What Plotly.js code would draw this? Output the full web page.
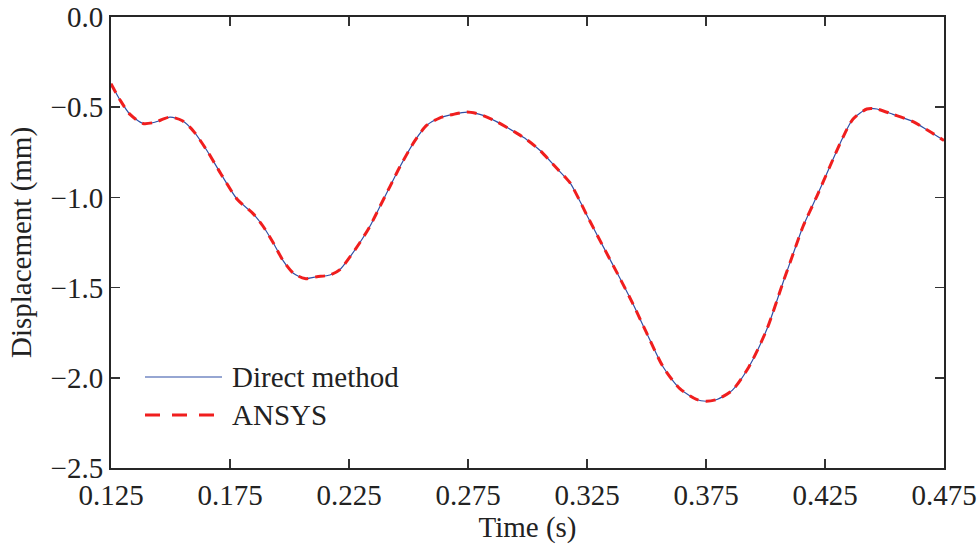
<!DOCTYPE html>
<html>
<head>
<meta charset="utf-8">
<script src="https://cdn.plot.ly/plotly-3.0.1.min.js"></script>
<style>html,body{margin:0;padding:0;background:#fff;}#chart{width:979px;height:544px;}</style>
</head>
<body>
<div id="chart"></div>
<script>
// Time (s)
const time = [0.125,0.1288,0.133,0.1384,0.1430,0.1498,0.1550,0.1595,0.1653,0.1712,0.178,0.1847,0.1889,0.1931,0.1973,0.2016,0.2065,0.2115,0.217,0.2212,0.2254,0.2296,0.2338,0.238,0.2422,0.2464,0.2527,0.2577,0.263,0.2687,0.2746,0.280,0.287,0.2956,0.2997,0.3053,0.3124,0.3179,0.322,0.3250,0.3317,0.3389,0.3443,0.350,0.357,0.364,0.371,0.375,0.3796,0.386,0.393,0.4006,0.4074,0.4117,0.4158,0.4217,0.427,0.4326,0.4368,0.4426,0.4468,0.4536,0.462,0.4678,0.475];
// Displacement (mm), direct method
const directDisp = [-0.37,-0.46,-0.54,-0.59,-0.585,-0.555,-0.575,-0.63,-0.74,-0.87,-1.01,-1.09,-1.16,-1.25,-1.35,-1.42,-1.45,-1.44,-1.43,-1.40,-1.33,-1.25,-1.16,-1.05,-0.94,-0.83,-0.685,-0.60,-0.56,-0.54,-0.527,-0.54,-0.58,-0.645,-0.68,-0.74,-0.84,-0.92,-1.02,-1.10,-1.27,-1.45,-1.59,-1.75,-1.94,-2.06,-2.12,-2.13,-2.12,-2.07,-1.94,-1.73,-1.47,-1.31,-1.16,-0.99,-0.83,-0.665,-0.565,-0.51,-0.51,-0.54,-0.58,-0.625,-0.685];
// Displacement (mm), ANSYS
const ansysDisp = directDisp.slice();

const xTicks = [0.125,0.175,0.225,0.275,0.325,0.375,0.425,0.475];
const xTickText = ['0.125','0.175','0.225','0.275','0.325','0.375','0.425','0.475'];
const yTicks = [0,-0.5,-1.0,-1.5,-2.0,-2.5];
const yTickText = ['0.0','\u22120.5','\u22121.0','\u22121.5','\u22122.0','\u22122.5'];
const seriesNames = ['Direct method','ANSYS'];

const FONT = '"Liberation Serif","Times New Roman",Times,serif';
const FS = 29;
const BLUE = '#2f4fa6';
const RED = '#f01e1e';

const traces = [
  {x: time, y: directDisp, type: 'scatter', mode: 'lines', name: seriesNames[0],
   line: {color: BLUE, width: 1.2, shape: 'spline', smoothing: 0.7}},
  {x: time, y: ansysDisp, type: 'scatter', mode: 'lines', name: seriesNames[1],
   line: {color: RED, width: 3, dash: '10px,7px', shape: 'spline', smoothing: 0.7}}
];

const L = 111, R = 35, T = 17, B = 76, W = 979, H = 544;
const pw = W - L - R, ph = H - T - B;
const px = v => (v - L) / pw;
const py = v => (H - B - v) / ph;

const layout = {
  width: W, height: H,
  margin: {l: L, r: R, t: T, b: B, pad: 0},
  paper_bgcolor: '#fff', plot_bgcolor: '#fff',
  showlegend: false,
  font: {family: FONT, size: FS, color: '#222'},
  xaxis: {
    range: [0.125, 0.475], tickmode: 'array', tickvals: xTicks, ticktext: xTickText,
    ticks: 'inside', ticklen: 9, tickwidth: 1.5, tickcolor: '#333',
    showline: true, linecolor: '#262626', linewidth: 2, mirror: 'ticks',
    showgrid: false, zeroline: false,
    tickfont: {family: FONT, size: FS, color: '#222'},
    title: {text: 'Time (s)', font: {family: FONT, size: FS, color: '#222'}, standoff: 0}
  },
  yaxis: {
    range: [-2.5, 0], tickmode: 'array', tickvals: yTicks, ticktext: yTickText,
    ticks: 'inside', ticklen: 9, tickwidth: 1.5, tickcolor: '#333',
    showline: true, linecolor: '#262626', linewidth: 2, mirror: 'ticks',
    showgrid: false, zeroline: false,
    tickfont: {family: FONT, size: FS, color: '#222'},
    title: {text: 'Displacement (mm)', font: {family: FONT, size: FS, color: '#222'}, standoff: 10}
  },
  shapes: [
    {type: 'line', xref: 'paper', yref: 'paper', x0: px(145), x1: px(222), y0: py(377), y1: py(377),
     line: {color: BLUE, width: 1.2}},
    {type: 'line', xref: 'paper', yref: 'paper', x0: px(145), x1: px(222), y0: py(415), y1: py(415),
     line: {color: RED, width: 3, dash: '15px,12px'}}
  ],
  annotations: [
    {xref: 'paper', yref: 'paper', x: px(230), y: py(377), xanchor: 'left', yanchor: 'middle',
     text: seriesNames[0], showarrow: false, font: {family: FONT, size: FS, color: '#222'}},
    {xref: 'paper', yref: 'paper', x: px(230), y: py(415), xanchor: 'left', yanchor: 'middle',
     text: seriesNames[1], showarrow: false, font: {family: FONT, size: FS, color: '#222'}}
  ]
};

Plotly.newPlot('chart', traces, layout, {displayModeBar: false, staticPlot: true});
</script>
</body>
</html>
